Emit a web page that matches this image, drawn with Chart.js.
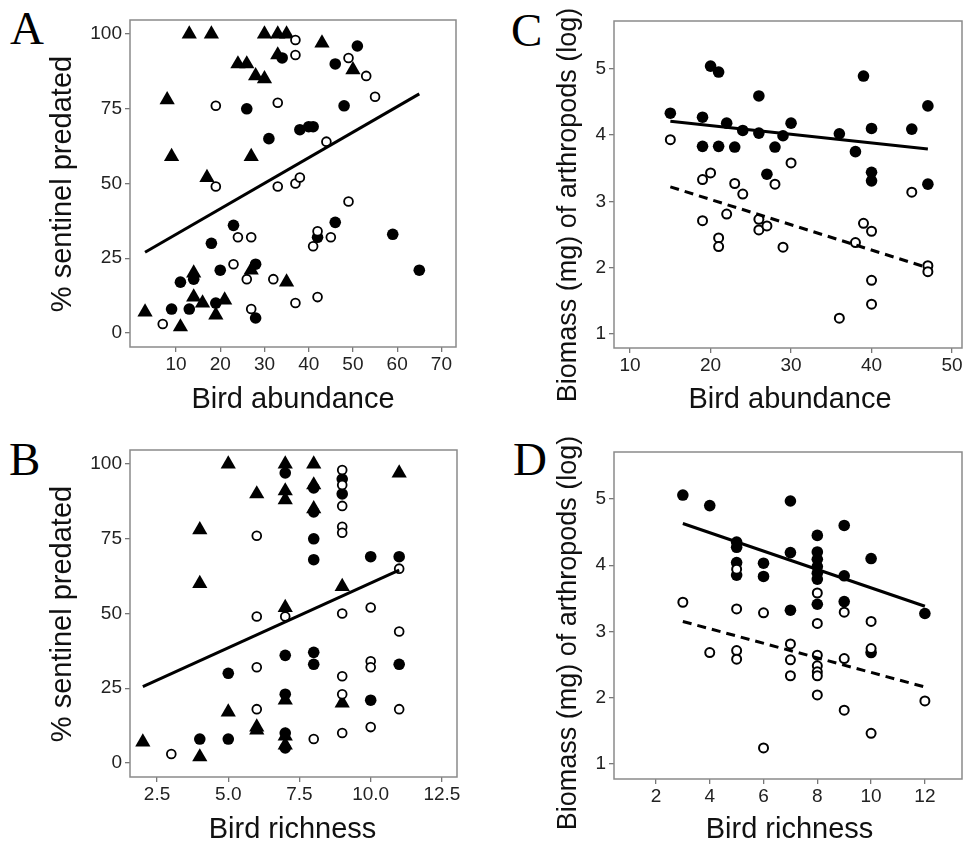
<!DOCTYPE html>
<html>
<head>
<meta charset="utf-8">
<script src="https://cdn.jsdelivr.net/npm/chart.js@4.4.0/dist/chart.umd.min.js"></script>
<style>
  body { margin: 0; background: #fff; width: 963px; height: 843px; position: relative; overflow: hidden; font-family: "Liberation Sans", Arial, sans-serif; }
  canvas { position: absolute; }
  .lbl { position: absolute; white-space: nowrap; line-height: 1; color: #111; }
  .letter { position: absolute; font-family: "Liberation Serif", "Times New Roman", serif; font-size: 47px; line-height: 1; color: #000; }
</style>
</head>
<body>
<script>
// ---- tick labels ----
const pctTicks = [0, 25, 50, 75, 100];
const abundTicksA = [10, 20, 30, 40, 50, 60, 70];
const richTicksB = [2.5, 5.0, 7.5, 10.0, 12.5];
const bioTicks = [1, 2, 3, 4, 5];
const abundTicksC = [10, 20, 30, 40, 50];
const richTicksD = [2, 4, 6, 8, 10, 12];

// ---- A: % predated vs bird abundance ----
const aFilled = [[51,96],[34,92],[46,90],[26,75],[48,76],[38,68],[40,69],[41,69],[31,65],[46,37],[23,36],[18,30],
  [42,32],[59,33],[65,21],[20,21],[28,23],[11,17],[14,18],[9,8],[13,8],[19,10],[28,5]];
const aTriangle = [[13,100],[18,100],[30,100],[33,100],[35,100],[43,97],[33,93],[24,90],[26,90],[50,88],[28,86],[30,85],
  [8,78],[9,59],[27,59],[17,52],[14,20],[14,12],[16,10],[21,11],[19,6],[3,7],[11,2],[27,21],[35,17]];
const aOpen = [[37,98],[37,93],[49,92],[53,86],[55,79],[19,76],[33,77],[44,64],[19,49],[33,49],[37,50],[38,52],[49,44],
  [24,32],[27,32],[42,34],[45,32],[41,29],[23,23],[26,18],[32,18],[37,10],[42,12],[27,8],[7,3]];
const aFit = [[3,27],[65,80]];

// ---- B: % predated vs bird richness ----
const bFilled = [[7,97],[9,95],[9,90],[8,92],[8,84],[8,75],[8,68],[10,69],[11,69],[7,36],[5,30],[8,37],[8,33],[11,33],
  [7,23],[10,21],[7,10],[7,5],[5,8],[4,8]];
const bTriangle = [[5,100],[7,100],[8,100],[11,97],[6,90],[7,91],[7,88],[8,93],[8,85],[4,78],[4,60],[9,59],[7,52],
  [2,7],[4,2],[5,17],[6,12],[6,11],[7,9],[7,6],[7,21],[9,20]];
const bOpen = [[9,98],[9,93],[9,86],[9,79],[9,77],[6,76],[11,65],[7,49],[6,49],[9,50],[10,52],[11,44],[6,32],[9,29],
  [10,34],[10,32],[9,23],[11,18],[6,18],[8,8],[9,10],[10,12],[3,3]];
const bFit = [[2,25.5],[11,64.5]];

// ---- C: biomass vs bird abundance ----
const cFilled = [[15,4.33],[20,5.04],[21,4.95],[19,4.27],[22,4.18],[19,3.83],[21,3.83],[23,3.82],[39,4.89],[26,4.59],
  [47,4.44],[24,4.07],[26,4.03],[30,4.18],[29,3.99],[36,4.02],[40,4.1],[45,4.09],[38,3.75],[28,3.82],[27,3.41],
  [40,3.44],[40,3.31],[47,3.26]];
const cOpen = [[15,3.93],[19,3.33],[20,3.43],[30,3.58],[23,3.27],[24,3.11],[28,3.26],[45,3.14],[22,2.81],[19,2.71],
  [21,2.45],[21,2.32],[26,2.73],[26,2.57],[27,2.63],[29,2.31],[39,2.67],[40,2.55],[38,2.38],[47,2.03],[47,1.94],
  [40,1.81],[40,1.45],[36,1.24]];
const cFitSolid = [[15,4.21],[47,3.79]];
const cFitDash = [[15,3.22],[47,2.0]];

// ---- D: biomass vs bird richness ----
const dFilled = [[3,5.06],[4,4.9],[7,4.97],[9,4.6],[8,4.45],[5,4.35],[5,4.27],[7,4.19],[8,4.2],[8,4.09],[8,3.98],
  [8,3.88],[8,3.79],[10,4.1],[6,4.03],[5,4.04],[5,3.85],[6,3.83],[9,3.84],[8,3.41],[9,3.45],[7,3.32],[10,2.68],[12,3.27]];
const dOpen = [[3,3.44],[4,2.68],[5,3.94],[8,3.58],[5,3.34],[6,3.28],[9,3.29],[8,3.12],[10,3.15],[7,2.81],[10,2.74],
  [5,2.71],[5,2.58],[7,2.57],[8,2.64],[9,2.59],[8,2.48],[8,2.39],[8,2.33],[7,2.33],[8,2.04],[12,1.95],[9,1.81],
  [10,1.46],[6,1.24]];
const dFitSolid = [[3,4.63],[12,3.38]];
const dFitDash = [[3,3.15],[12,2.16]];

const pts = arr => arr.map(p => ({ x: p[0], y: p[1] }));

function filledSet(d, r) {
  return { data: pts(d), pointStyle: 'circle', pointRadius: r, backgroundColor: '#000', borderWidth: 0, order: 3 };
}
function triSet(d) {
  return { data: pts(d), pointStyle: 'triangle', pointRadius: 8.8, backgroundColor: '#000', borderWidth: 0, order: 2 };
}
function openSet(d, r, bw) {
  return { data: pts(d), pointStyle: 'circle', pointRadius: r, backgroundColor: '#fff', borderColor: '#000', borderWidth: bw, order: 1 };
}
function fitSet(d, dash) {
  return { data: pts(d), showLine: true, pointRadius: 0, borderColor: '#000', borderWidth: 3, borderDash: dash || [], order: 0 };
}

const frame = {
  id: 'frame',
  afterDatasetsDraw(chart) {
    const { ctx, chartArea: a } = chart;
    ctx.save();
    ctx.strokeStyle = '#8a8a8a';
    ctx.lineWidth = 1.5;
    ctx.strokeRect(a.left, a.top, a.right - a.left, a.bottom - a.top);
    ctx.restore();
  }
};

function axis(min, max, ticks, fmt, fitFn) {
  return {
    type: 'linear', min: min, max: max,
    afterBuildTicks: s => { s.ticks = ticks.map(v => ({ value: v })); },
    afterFit: fitFn,
    grid: { display: true, drawOnChartArea: false, drawTicks: true, tickLength: 5, color: '#777', lineWidth: 1.3 },
    border: { display: false },
    ticks: { autoSkip: false, maxRotation: 0, padding: 3, color: '#222',
      font: { family: 'Liberation Sans', size: 19, lineHeight: 1 }, callback: fmt }
  };
}

function panel(box, xr, yr, xt, yt, xfmt, datasets) {
  const [L, T, R, B] = box;
  const padL = 60, padT = 15, padR = 10, padB = 40;
  const cv = document.createElement('canvas');
  cv.width = R - L + padL + padR;
  cv.height = B - T + padT + padB;
  cv.style.left = (L - padL) + 'px';
  cv.style.top = (T - padT) + 'px';
  document.body.appendChild(cv);
  new Chart(cv.getContext('2d'), {
    type: 'scatter',
    data: { datasets: datasets },
    options: {
      responsive: false, animation: false, events: [],
      layout: { padding: { left: 0, top: padT, right: padR, bottom: 0 } },
      plugins: { legend: { display: false }, tooltip: { enabled: false } },
      scales: {
        x: axis(xr[0], xr[1], xt, xfmt, s => { s.height = padB; }),
        y: axis(yr[0], yr[1], yt, v => String(v), s => { s.width = padL; })
      }
    },
    plugins: [frame]
  });
}

function text(txt, cx, cy, size, rot) {
  const d = document.createElement('div');
  d.className = 'lbl';
  d.textContent = txt;
  d.style.fontSize = size + 'px';
  d.style.left = cx + 'px';
  d.style.top = cy + 'px';
  d.style.transform = 'translate(-50%,-50%)' + (rot ? ' rotate(-90deg)' : '');
  document.body.appendChild(d);
}
function letter(ch, left, top) {
  const d = document.createElement('div');
  d.className = 'letter';
  d.textContent = ch;
  d.style.left = left + 'px';
  d.style.top = top + 'px';
  document.body.appendChild(d);
}

const plain = v => String(v);

panel([130, 20, 456, 347], [-0.4, 73.3], [-4.7, 104.7], abundTicksA, pctTicks, plain,
  [fitSet(aFit), openSet(aOpen, 4.4, 1.8), triSet(aTriangle), filledSet(aFilled, 5.8)]);
panel([130, 450, 457, 777], [1.55, 13.03], [-4.7, 104.7], richTicksB, pctTicks, v => v.toFixed(1),
  [fitSet(bFit), openSet(bOpen, 4.4, 1.8), triSet(bTriangle), filledSet(bFilled, 5.8)]);
panel([614, 21, 962, 348], [8.0, 51.24], [0.79, 5.72], abundTicksC, bioTicks, plain,
  [fitSet(cFitSolid), fitSet(cFitDash, [9, 6]), openSet(cOpen, 4.5, 2), filledSet(cFilled, 5.8)]);
panel([614, 452, 962, 779], [0.44, 13.38], [0.77, 5.71], richTicksD, bioTicks, plain,
  [fitSet(dFitSolid), fitSet(dFitDash, [9, 6]), openSet(dOpen, 4.5, 2), filledSet(dFilled, 5.8)]);

text('% sentinel predated', 61, 183.5, 29, true);
text('% sentinel predated', 61, 613.5, 29, true);
text('Bird abundance', 293, 398, 29);
text('Bird richness', 292.5, 828, 29);
text('Biomass (mg) of arthropods (log)', 566.5, 205, 27, true);
text('Biomass (mg) of arthropods (log)', 566.5, 633, 27, true);
text('Bird abundance', 790, 398, 29);
text('Bird richness', 789.5, 828, 29);

letter('A', 10, 4.6);
letter('B', 9, 435.6);
letter('C', 511, 6.6);
letter('D', 513, 435.6);
</script>
</body>
</html>
